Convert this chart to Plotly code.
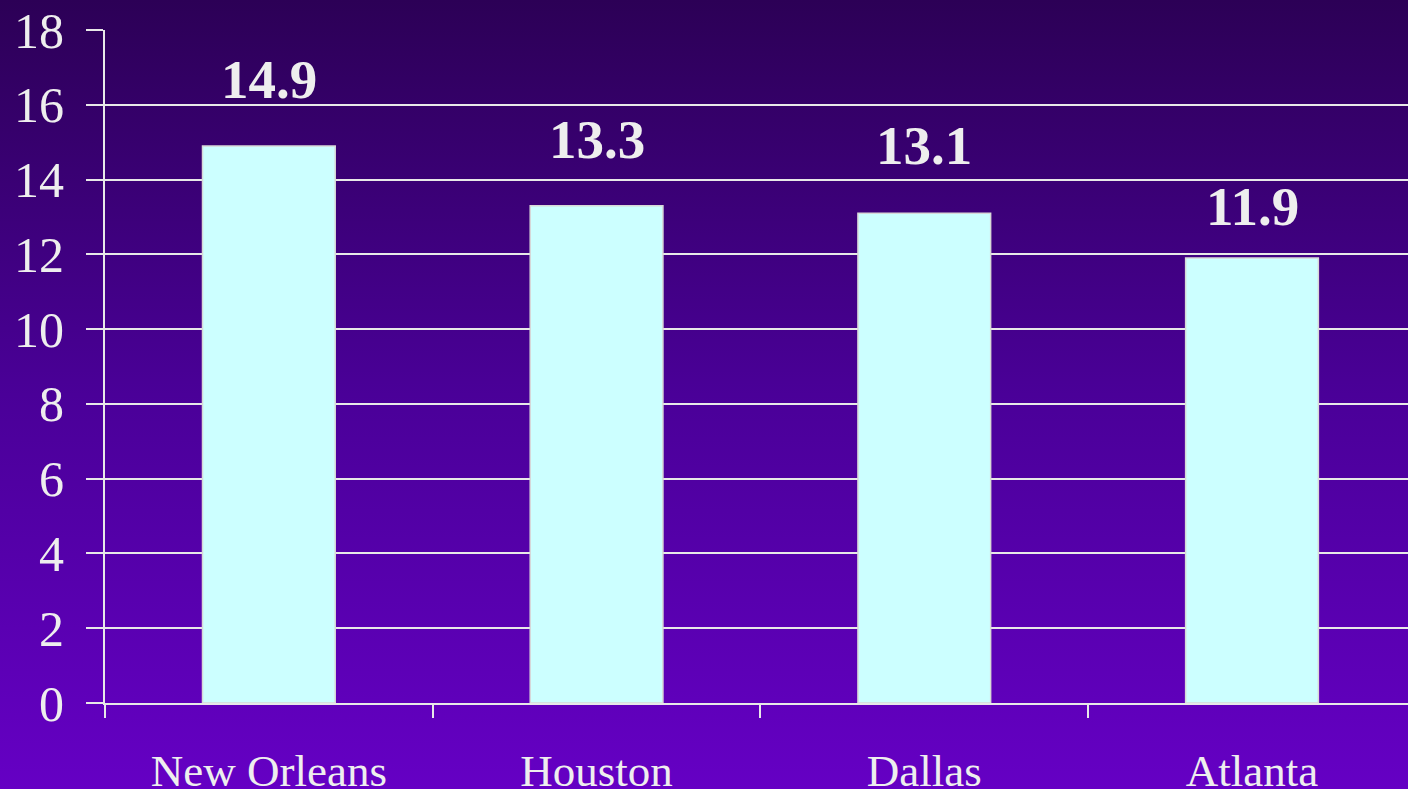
import base64
import plotly.graph_objects as go

# ---- data ----
cities = ["New Orleans", "Houston", "Dallas", "Atlanta"]
values = [14.9, 13.3, 13.1, 11.9]
value_labels = ["14.9", "13.3", "13.1", "11.9"]
label_shift_px = [19, 19, 20, 4]
y_ticks = [0, 2, 4, 6, 8, 10, 12, 14, 16, 18]

W, H = 1408, 789
ML, MR, MT, MB = 105, 0, 30, 86
pw = W - ML - MR
ph = H - MT - MB

svg = f'''<svg xmlns="http://www.w3.org/2000/svg" width="{W}" height="{H}" preserveAspectRatio="none">
<defs><linearGradient id="g" x1="0" y1="0" x2="0" y2="1">
<stop offset="0" stop-color="#2c0056"/>
<stop offset="0.5" stop-color="#4a0098"/>
<stop offset="1" stop-color="#6500c4"/>
</linearGradient></defs>
<rect x="0" y="0" width="{W}" height="{H}" fill="url(#g)"/></svg>'''
src = "data:image/svg+xml;base64," + base64.b64encode(svg.encode()).decode()

fig = go.Figure()
fig.add_trace(go.Bar(
    x=cities, y=values, width=0.405,
    marker=dict(color="#ccffff", line=dict(color="#d8d8d8", width=1.5)),
    hoverinfo="skip",
))

for c, v, t, s in zip(cities, values, value_labels, label_shift_px):
    fig.add_annotation(
        x=c, y=v, text=f"<b>{t}</b>", showarrow=False,
        yanchor="bottom", yshift=s + 15,
        font=dict(family="Liberation Serif", size=55, color="#eeeeee"),
    )

fig.add_layout_image(
    source=src, xref="paper", yref="paper",
    x=-ML / pw, y=1 + MT / ph, sizex=W / pw, sizey=H / ph,
    xanchor="left", yanchor="top", sizing="stretch", layer="below",
)

fig.update_layout(
    width=W, height=H,
    margin=dict(l=ML, r=MR, t=MT, b=MB, pad=0, autoexpand=False),
    paper_bgcolor="#4a0098", plot_bgcolor="rgba(0,0,0,0)",
    showlegend=False,
    font=dict(family="Liberation Serif", color="#eeeeee"),
)
fig.update_xaxes(
    range=[-0.5, 3.476], showgrid=False, zeroline=False, automargin=False,
    showline=True, linecolor="#e8e8e8", linewidth=2,
    ticks="", tickfont=dict(size=45, color="#eeeeee"),
    ticklabelstandoff=27,
)
fig.update_xaxes(minor=dict(ticks="outside", tickvals=[-0.5, 0.5, 1.5, 2.5, 3.5],
                            ticklen=13, tickwidth=2, tickcolor="#e8e8e8"))
fig.update_yaxes(
    range=[0, 18], tickvals=y_ticks, ticktext=[str(t) for t in y_ticks],
    showgrid=True, gridcolor="#e8e8e8", gridwidth=2, zeroline=False, automargin=False,
    showline=True, linecolor="#e8e8e8", linewidth=2,
    ticks="outside", ticklen=17, tickwidth=2, tickcolor="#e8e8e8",
    tickfont=dict(size=50, color="#eeeeee"), ticklabelstandoff=12,
)

fig.write_html(
    "out.html",
    config={"displayModeBar": False},
    post_script="document.body.style.margin='0';document.body.style.overflow='hidden';",
)
